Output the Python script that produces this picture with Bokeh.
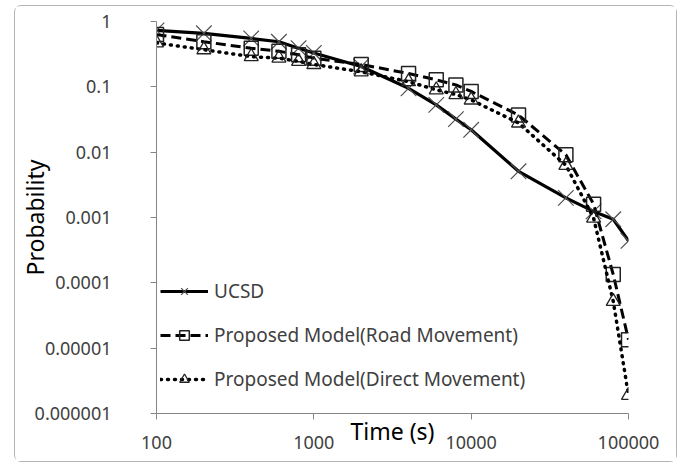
import math
from bokeh.plotting import figure
from bokeh.models import FixedTicker, Legend, LegendItem
from bokeh.embed import file_html
from bokeh.resources import INLINE

# ---- data ----
time_s = [100, 200, 400, 600, 800, 1000, 2000, 4000, 6000, 8000, 10000,
          20000, 40000, 60000, 80000, 100000]
ucsd = [0.73, 0.66, 0.55, 0.49, 0.39, 0.33, 0.205, 0.095, 0.053, 0.032, 0.022,
        0.0051, 0.002, 0.00124, 0.00094, 0.00044]
road = [0.63, 0.49, 0.39, 0.35, 0.31, 0.275, 0.22, 0.16, 0.128, 0.107, 0.085,
        0.037, 0.0091, 0.0016, 0.000134, 0.0000135]
direct = [0.47, 0.37, 0.29, 0.275, 0.245, 0.22, 0.17, 0.12, 0.09, 0.076, 0.063,
          0.028, 0.0063, 0.00098, 0.000052, 0.0000019]

x_ticks = [100, 1000, 10000, 100000]
x_tick_labels = ["100", "1000", "10000", "100000"]
y_ticks = [1e-6, 1e-5, 1e-4, 1e-3, 1e-2, 1e-1, 1]
y_tick_labels = ["0.000001", "0.00001", "0.0001", "0.001", "0.01", "0.1", "1"]

series_names = ["UCSD", "Proposed Model(Road Movement)",
                "Proposed Model(Direct Movement)"]
x_title = "Time (s)"
y_title = "Probability"

FONT = "Noto Sans"
AXIS_GRAY = "#868686"
TEXT = "#404040"

p = figure(width=663, height=457, x_axis_type="log", y_axis_type="log",
           x_range=(100, 100000), y_range=(1e-6, 1),
           output_backend="svg", toolbar_location=None,
           min_border_left=139, min_border_right=50,
           min_border_top=15, min_border_bottom=50)
p.margin = (5, 0, 0, 14)
p.styles = {"border": "1px solid #b4b4b4", "border-radius": "7px"}
p.outline_line_color = None
p.xgrid.visible = False
p.ygrid.visible = False
p.background_fill_color = "white"
p.border_fill_color = "white"

for ax in (p.xaxis[0], p.yaxis[0]):
    ax.axis_line_color = AXIS_GRAY
    ax.major_tick_line_color = AXIS_GRAY
    ax.minor_tick_line_color = None
    ax.major_tick_in = 0
    ax.major_tick_out = 6
    ax.major_label_text_font = FONT
    ax.major_label_text_font_size = "18px"
    ax.major_label_text_color = TEXT
    ax.axis_label_text_font = FONT
    ax.axis_label_text_font_size = "23px"
    ax.axis_label_text_font_style = "normal"
    ax.axis_label_text_color = "black"

p.xaxis.ticker = FixedTicker(ticks=x_ticks, minor_ticks=[])
p.xaxis.major_label_overrides = {t: l for t, l in zip(x_ticks, x_tick_labels)}
p.xaxis.major_label_standoff = 16
p.xaxis.axis_label = x_title
p.xaxis.axis_label_standoff = -37
p.yaxis.ticker = FixedTicker(ticks=y_ticks, minor_ticks=[])
p.yaxis.major_label_overrides = {t: l for t, l in zip(y_ticks, y_tick_labels)}
p.yaxis.major_label_standoff = 39
p.yaxis.axis_label = y_title
p.yaxis.axis_label_standoff = -19

# series
l1 = p.line(time_s, ucsd, line_color="black", line_width=3.2)
m1 = p.scatter(time_s, ucsd, marker="x", size=22, line_color="#505050",
               line_width=1.2)
l2 = p.line(time_s, road, line_color="black", line_width=3, line_dash="10 5")
m2 = p.scatter(time_s, road, marker="square", size=14, line_color="#222222",
               fill_color="white", fill_alpha=0.0, line_width=1.5)
l3 = p.line(time_s, direct, line_color="black", line_width=3.5,
            line_dash="1 6", line_cap="round")
m3 = p.scatter(time_s, direct, marker="triangle", size=14, line_color="#222222",
               fill_color="white", fill_alpha=0.0, line_width=1.3)

legend = Legend(items=[LegendItem(label=series_names[0], renderers=[l1, m1]),
                       LegendItem(label=series_names[1], renderers=[l2, m2]),
                       LegendItem(label=series_names[2], renderers=[l3, m3])],
                location=(4, 21), glyph_width=48, glyph_height=24,
                label_height=24, spacing=18, padding=4, margin=0,
                label_standoff=6, border_line_color=None,
                background_fill_alpha=0,
                label_text_font=FONT, label_text_font_size="19px",
                label_text_color=TEXT)
p.add_layout(legend, "center")

open("out.html", "w").write(file_html(p, INLINE))
